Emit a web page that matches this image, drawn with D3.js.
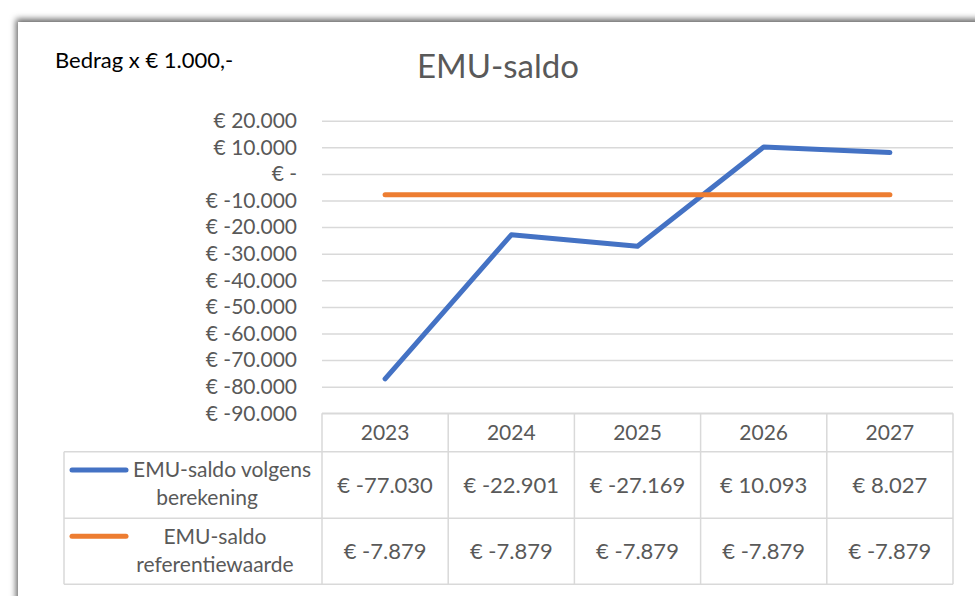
<!DOCTYPE html>
<html>
<head>
<meta charset="utf-8">
<script src="https://cdn.jsdelivr.net/npm/d3@7"></script>
<style>
  body { margin: 0; background: #fff; }
  svg { display: block; }
  text { font-family: Lato, "Open Sans", sans-serif; }
</style>
</head>
<body>
<svg width="975" height="596"></svg>
<script>
var years = ["2023", "2024", "2025", "2026", "2027"];
var berekening = [-77030, -22901, -27169, 10093, 8027];
var referentie = [-7879, -7879, -7879, -7879, -7879];
var seriesNames = [["EMU-saldo volgens", "berekening"], ["EMU-saldo", "referentiewaarde"]];
var yTicks = [20000, 10000, 0, -10000, -20000, -30000, -40000, -50000, -60000, -70000, -80000, -90000];

var svg = d3.select("svg");

// frame with shadow on the left and top
var defs = svg.append("defs");
var f = defs.append("filter").attr("id", "shadow")
  .attr("x", "-5%").attr("y", "-5%").attr("width", "110%").attr("height", "110%");
f.append("feDropShadow").attr("dx", -2).attr("dy", -3).attr("stdDeviation", 3)
  .attr("flood-color", "#000").attr("flood-opacity", 0.6);

svg.append("rect")
  .attr("x", 18).attr("y", 22).attr("width", 1100).attr("height", 700)
  .attr("fill", "#fff")
  .attr("filter", "url(#shadow)");

var fmtNum = d3.formatLocale({decimal: ",", thousands: ".", grouping: [3], currency: ["€ ", ""]}).format(",.0f");
function euro(v) {
  if (v === 0) return "€ -";
  return "€ " + fmtNum(v).replace("−", "-");
}

var plotLeft = 322, plotRight = 953, plotTop = 120.7, plotBottom = 413.3;

var x = d3.scaleBand().domain(years).range([plotLeft, plotRight]).paddingInner(0).paddingOuter(0);
var y = d3.scaleLinear().domain([-90000, 20000]).range([plotBottom, plotTop]);

var colors = ["#4472C4", "#ED7D31"];
var grid = "#d9d9d9";
var txt = "#595959";

// title and unit note
svg.append("text")
  .attr("x", 498).attr("y", 78)
  .attr("text-anchor", "middle")
  .attr("font-size", 33)
  .attr("fill", txt)
  .text("EMU-saldo");

svg.append("text")
  .attr("x", 55).attr("y", 68)
  .attr("font-size", 22)
  .attr("fill", "#000")
  .text("Bedrag x € 1.000,-");

// y axis with gridlines
var yAxis = svg.append("g")
  .attr("transform", "translate(" + plotLeft + ",0)")
  .call(d3.axisLeft(y).tickValues(yTicks).tickFormat(euro).tickSize(-(plotRight - plotLeft)).tickPadding(25));
yAxis.select(".domain").remove();
yAxis.selectAll(".tick line").attr("stroke", grid).attr("stroke-width", 1.5);
yAxis.selectAll(".tick text")
  .attr("fill", txt)
  .attr("font-size", 21)
  .style("font-family", "Lato, sans-serif");

// lines
var line = d3.line()
  .x(function(d, i) { return x(years[i]) + x.bandwidth() / 2; })
  .y(function(d) { return y(d); });

[berekening, referentie].forEach(function(s, i) {
  svg.append("path")
    .datum(s)
    .attr("fill", "none")
    .attr("stroke", colors[i])
    .attr("stroke-width", 5)
    .attr("stroke-linejoin", "round")
    .attr("stroke-linecap", "round")
    .attr("d", line);
});

// data table
var rowTops = [plotBottom, 451.7, 518.3, 584.3];
var tableLeft = 64;
var tg = svg.append("g").attr("stroke", grid).attr("stroke-width", 1.5).attr("fill", "none");

// horizontal lines
tg.append("line").attr("x1", plotLeft).attr("x2", plotRight).attr("y1", rowTops[0]).attr("y2", rowTops[0]);
for (var r = 1; r < rowTops.length; r++) {
  tg.append("line").attr("x1", tableLeft).attr("x2", plotRight).attr("y1", rowTops[r]).attr("y2", rowTops[r]);
}
// vertical lines
tg.append("line").attr("x1", tableLeft).attr("x2", tableLeft).attr("y1", rowTops[1]).attr("y2", rowTops[3]);
years.forEach(function(yr) {
  tg.append("line").attr("x1", x(yr)).attr("x2", x(yr)).attr("y1", rowTops[0]).attr("y2", rowTops[3]);
});
tg.append("line").attr("x1", plotRight).attr("x2", plotRight).attr("y1", rowTops[0]).attr("y2", rowTops[3]);

// header row
svg.selectAll(".yr").data(years).enter().append("text")
  .attr("x", function(d) { return x(d) + x.bandwidth() / 2; })
  .attr("y", (rowTops[0] + rowTops[1]) / 2)
  .attr("dy", "0.35em")
  .attr("text-anchor", "middle")
  .attr("font-size", 21)
  .attr("fill", txt)
  .text(function(d) { return d; });

// value rows
[berekening, referentie].forEach(function(s, i) {
  var cy = (rowTops[i + 1] + rowTops[i + 2]) / 2;
  svg.selectAll(".v" + i).data(s).enter().append("text")
    .attr("x", function(d, j) { return x(years[j]) + x.bandwidth() / 2; })
    .attr("y", cy)
    .attr("dy", "0.35em")
    .attr("text-anchor", "middle")
    .attr("font-size", 22)
    .attr("fill", txt)
    .text(function(d) { return euro(d); });

  // legend key
  svg.append("line")
    .attr("x1", 72).attr("x2", 126)
    .attr("y1", cy - 15).attr("y2", cy - 15)
    .attr("stroke", colors[i])
    .attr("stroke-width", 5)
    .attr("stroke-linecap", "round");

  var t = svg.append("text")
    .attr("font-size", 21)
    .attr("fill", txt)
    .attr("text-anchor", "middle");
  if (i === 0) {
    t.append("tspan").attr("x", 222).attr("y", cy - 15).attr("dy", "0.35em").text(seriesNames[i][0]);
    t.append("tspan").attr("x", 207).attr("y", cy + 13).attr("dy", "0.35em").text(seriesNames[i][1]);
  } else {
    t.append("tspan").attr("x", 215).attr("y", cy - 15).attr("dy", "0.35em").text(seriesNames[i][0]);
    t.append("tspan").attr("x", 215).attr("y", cy + 13).attr("dy", "0.35em").text(seriesNames[i][1]);
  }
});
</script>
</body>
</html>
